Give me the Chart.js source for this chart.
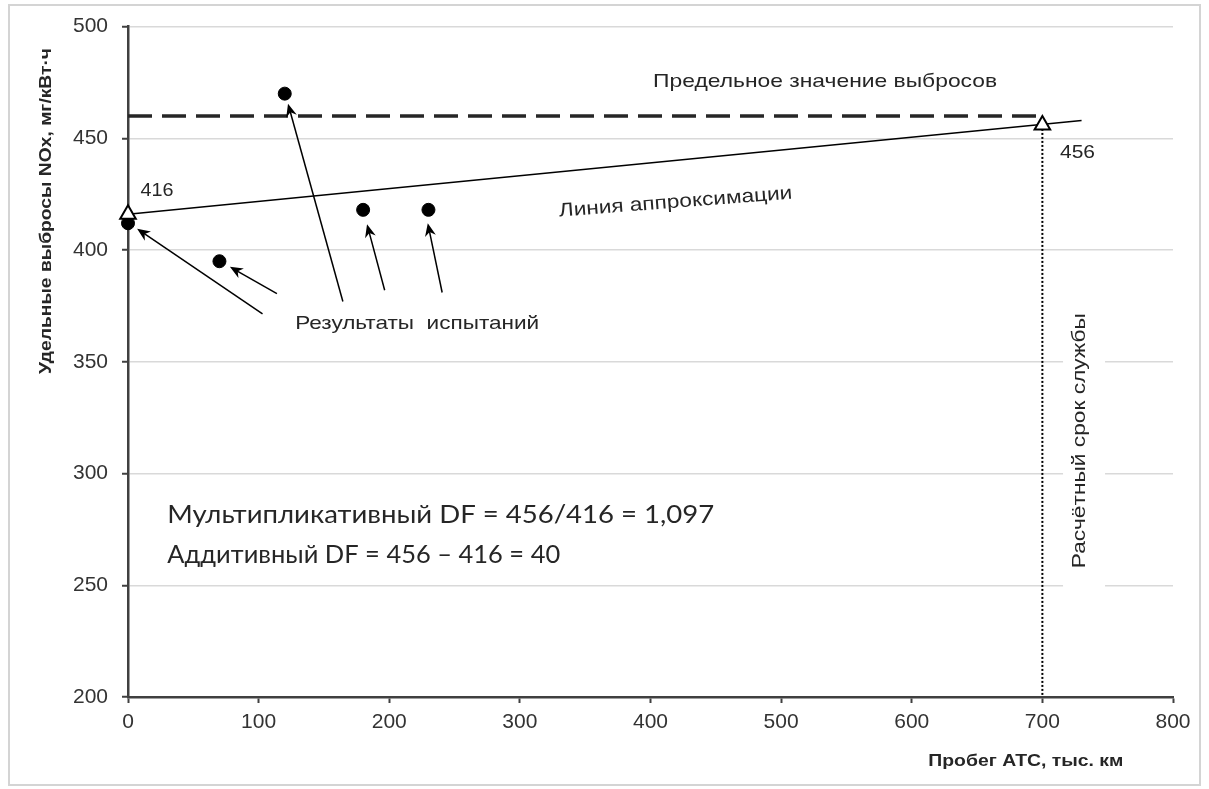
<!DOCTYPE html>
<html>
<head>
<meta charset="utf-8">
<script src="https://cdn.jsdelivr.net/npm/chart.js@4"></script>
<style>
  body { margin: 0; background: #fff; }
  #wrap { width: 1209px; height: 789px; position: relative; }
</style>
</head>
<body>
<div id="wrap"><canvas id="chart"></canvas></div>
<script>
// axis ranges
const xTicks = [0, 100, 200, 300, 400, 500, 600, 700, 800];
const yTicks = [200, 250, 300, 350, 400, 450, 500];

// test results (mileage, thousand km / NOx, mg/kWh)
const testX = [0, 70, 120, 180, 230];
const testY = [412, 395, 470, 418, 418];

// approximation values at start and end of service life
const dfX = [0, 700];
const dfY = [416, 456];

// approximation line
const trendX = [0, 730];
const trendY = [416, 458];

// emission limit
const limitX = [0, 700];
const limitY = [460, 460];

// service life marker
const lifeX = [700, 700];
const lifeY = [456, 200];

// arrows from the caption to the test points: [tailX, tailY, tipX, tipY]
const arrows = [
  [103, 371.5, 7, 409.5],
  [114, 380.5, 78, 392.5],
  [164.5, 377, 122.5, 465.5],
  [196.5, 382, 183, 411.5],
  [240.5, 381, 229.5, 412]
];

const toPoints = (xs, ys) => xs.map((x, i) => ({ x: x, y: ys[i] }));

const sans = '"Liberation Sans", Arial, sans-serif';
const textColor = '#262626';

function drawText(ctx, text, x, y, font, width, angle, align) {
  ctx.save();
  ctx.translate(x, y);
  ctx.rotate(angle || 0);
  ctx.font = font;
  const w = ctx.measureText(text).width;
  ctx.scale(width ? width / w : 1, 1);
  ctx.textAlign = align || 'left';
  ctx.textBaseline = 'alphabetic';
  ctx.fillStyle = textColor;
  ctx.fillText(text, 0, 0);
  ctx.restore();
}

function drawArrow(ctx, x1, y1, x2, y2) {
  const a = Math.atan2(y2 - y1, x2 - x1);
  const len = 13, half = 5.5;
  ctx.save();
  ctx.strokeStyle = '#000';
  ctx.fillStyle = '#000';
  ctx.lineWidth = 1.5;
  ctx.beginPath();
  ctx.moveTo(x1, y1);
  ctx.lineTo(x2 - Math.cos(a) * 6, y2 - Math.sin(a) * 6);
  ctx.stroke();
  ctx.translate(x2, y2);
  ctx.rotate(a);
  ctx.beginPath();
  ctx.moveTo(0, 0);
  ctx.lineTo(-len, -half);
  ctx.lineTo(-len + 4, 0);
  ctx.lineTo(-len, half);
  ctx.closePath();
  ctx.fill();
  ctx.restore();
}

const notes = {
  id: 'notes',
  beforeDatasetsDraw(chart) {
    const ctx = chart.ctx;
    const x = chart.scales.x, y = chart.scales.y;
    // white box under the vertical caption hides the grid lines
    ctx.save();
    ctx.fillStyle = '#fff';
    ctx.fillRect(x.getPixelForValue(712) + 5, y.getPixelForValue(377), 42, y.getPixelForValue(244) - y.getPixelForValue(377));
    ctx.restore();
  },
  afterDraw(chart) {
    const ctx = chart.ctx;
    const x = chart.scales.x, y = chart.scales.y;
    const area = chart.chartArea;

    arrows.forEach(a => drawArrow(ctx, x.getPixelForValue(a[0]), y.getPixelForValue(a[1]),
      x.getPixelForValue(a[2]), y.getPixelForValue(a[3])));

    drawText(ctx, 'Предельное значение выбросов', x.getPixelForValue(402), y.getPixelForValue(473), '19px ' + sans, 344);
    drawText(ctx, 'Линия аппроксимации', x.getPixelForValue(419.5), y.getPixelForValue(419), '19px ' + sans, 234, -4.4 * Math.PI / 180, 'center');
    drawText(ctx, 'Результаты  испытаний', x.getPixelForValue(128), y.getPixelForValue(364.7), '19px ' + sans, 244);
    drawText(ctx, '416', x.getPixelForValue(9.5), y.getPixelForValue(424), '19px ' + sans, 33);
    drawText(ctx, '456', x.getPixelForValue(713.5), y.getPixelForValue(441), '19px ' + sans, 35);
    drawText(ctx, 'Мультипликативный DF = 456/416 = 1,097', x.getPixelForValue(30), y.getPixelForValue(277.7), '25px Lato, sans-serif', 547);
    drawText(ctx, 'Аддитивный DF = 456 – 416 = 40', x.getPixelForValue(30), y.getPixelForValue(259.8), '25px Lato, sans-serif', 393);
    drawText(ctx, 'Расчётный срок службы', x.getPixelForValue(733), y.getPixelForValue(314.7), '19px ' + sans, 255, -Math.PI / 2, 'center');

    // axis titles
    drawText(ctx, 'Удельные выбросы NOx, мг/кВт·ч', area.left - 77, y.getPixelForValue(417.5), 'bold 17px ' + sans, 326, -Math.PI / 2, 'center');
    drawText(ctx, 'Пробег АТС, тыс. км', x.getPixelForValue(762), area.bottom + 69, 'bold 17px ' + sans, 195, 0, 'right');

    // outer frame
    ctx.save();
    ctx.strokeStyle = '#d4d4d4';
    ctx.lineWidth = 2;
    ctx.strokeRect(9, 5, 1191, 780);
    ctx.restore();
  }
};

new Chart(document.querySelector('#chart'), {
  type: 'scatter',
  data: {
    datasets: [
      {
        label: 'DF',
        data: toPoints(dfX, dfY),
        pointStyle: 'triangle',
        pointRadius: 9,
        backgroundColor: '#fff',
        borderColor: '#000',
        borderWidth: 2,
        clip: false,
        order: 0
      },
      {
        label: 'Результаты испытаний',
        data: toPoints(testX, testY),
        pointRadius: 6.5,
        backgroundColor: '#000',
        borderColor: '#000',
        clip: false,
        order: 1
      },
      {
        label: 'Линия аппроксимации',
        data: toPoints(trendX, trendY),
        showLine: true,
        pointRadius: 0,
        borderColor: '#000',
        borderWidth: 1.5,
        order: 2
      },
      {
        label: 'Предельное значение',
        data: toPoints(limitX, limitY),
        showLine: true,
        pointRadius: 0,
        borderColor: '#262626',
        borderWidth: 3.5,
        borderDash: [24, 10],
        order: 3
      },
      {
        label: 'Расчётный срок службы',
        data: toPoints(lifeX, lifeY),
        showLine: true,
        pointRadius: 0,
        borderColor: '#000',
        borderWidth: 2,
        borderDash: [2, 2],
        order: 4
      }
    ]
  },
  options: {
    responsive: true,
    maintainAspectRatio: false,
    animation: false,
    layout: { padding: { top: 25, right: 36, left: 0, bottom: 0 } },
    plugins: {
      legend: { display: false },
      tooltip: { enabled: false }
    },
    scales: {
      x: {
        type: 'linear',
        min: xTicks[0],
        max: xTicks[xTicks.length - 1],
        afterFit: s => { s.height = 92; },
        afterBuildTicks: s => { s.ticks = xTicks.map(v => ({ value: v })); },
        grid: { drawOnChartArea: false, tickLength: 6, tickColor: '#404040', tickWidth: 2 },
        border: { color: '#404040', width: 2.5 },
        ticks: { color: '#333', font: { family: sans, size: 21 }, padding: 7 }
      },
      y: {
        type: 'linear',
        min: yTicks[0],
        max: yTicks[yTicks.length - 1],
        afterFit: s => { s.width = 128; },
        afterBuildTicks: s => { s.ticks = yTicks.map(v => ({ value: v })); },
        grid: { color: '#d9d9d9', lineWidth: 1.5, tickLength: 6, tickColor: '#404040', tickWidth: 2 },
        border: { color: '#404040', width: 2.5 },
        ticks: { color: '#333', font: { family: sans, size: 21 }, padding: 14 }
      }
    }
  },
  plugins: [notes]
});
</script>
</body>
</html>
